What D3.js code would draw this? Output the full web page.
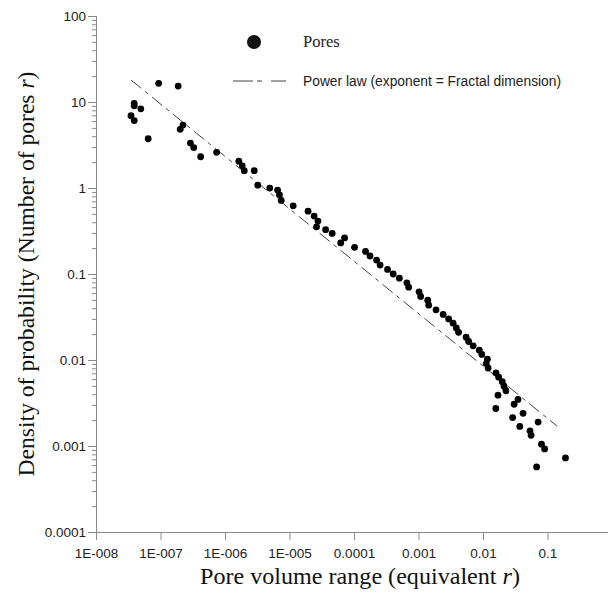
<!DOCTYPE html>
<html>
<head>
<meta charset="utf-8">
<script src="https://cdn.jsdelivr.net/npm/d3@7"></script>
<style>
  body { margin: 0; background: #fff; }
  .tick text { font-family: "Liberation Sans", Arial, sans-serif; font-size: 13.5px; fill: #222; }
  .axisTitle { font-family: "Liberation Serif", "Times New Roman", serif; font-size: 23px; fill: #111; }
</style>
</head>
<body>
<div id="svg-area"></div>
<script>
var svgWidth = 608;
var svgHeight = 592;

// pores (x = pore volume range, y = density of probability)
var poreX = [3.49e-8, 3.92e-8, 3.91e-8, 3.91e-8, 4.95e-8, 6.44e-8, 9.37e-8, 1.88e-7, 2.23e-7, 2.02e-7,
  2.91e-7, 3.28e-7, 4.19e-7, 7.42e-7, 1.64e-6, 1.85e-6, 1.99e-6, 2.84e-6, 3.22e-6, 4.94e-6,
  6.54e-6, 6.98e-6, 7.44e-6, 1.14e-5, 1.94e-5, 2.41e-5, 2.76e-5, 2.63e-5, 3.63e-5, 4.59e-5,
  7.14e-5, 6.22e-5, 1.02e-4, 1.51e-4, 1.77e-4, 2.24e-4, 2.54e-4, 3.31e-4, 4.05e-4, 5.05e-4,
  6.60e-4, 7.04e-4, 1.02e-3, 1.08e-3, 1.39e-3, 1.44e-3, 1.87e-3, 2.41e-3, 2.93e-3, 3.44e-3,
  3.86e-3, 4.18e-3, 5.48e-3, 5.99e-3, 7.03e-3, 8.77e-3, 9.59e-3, 0.0117, 0.0112, 0.0120,
  0.0159, 0.0175, 0.0199, 0.0212, 0.0227, 0.0171, 0.0349, 0.0304, 0.0158, 0.0418,
  0.0288, 0.0715, 0.0372, 0.0535, 0.0557, 0.0807, 0.0902, 0.190, 0.0678];
var poreY = [6.92, 6.08, 9.64, 9.02, 8.32, 3.74, 16.5, 15.3, 5.39, 4.81,
  3.33, 2.95, 2.31, 2.60, 2.05, 1.81, 1.59, 1.59, 1.08, 0.997,
  0.945, 0.831, 0.717, 0.621, 0.538, 0.471, 0.412, 0.354, 0.328, 0.296,
  0.263, 0.230, 0.204, 0.183, 0.162, 0.145, 0.127, 0.113, 0.100, 0.0895,
  0.0789, 0.0703, 0.0620, 0.0548, 0.0496, 0.0434, 0.0383, 0.0339, 0.0300, 0.0268,
  0.0236, 0.0210, 0.0184, 0.0164, 0.0146, 0.0130, 0.0116, 0.0102, 0.00908, 0.00807,
  0.00708, 0.00631, 0.00559, 0.00496, 0.00439, 0.00390, 0.00348, 0.00306, 0.00273, 0.00240,
  0.00214, 0.00190, 0.00169, 0.00150, 0.00133, 0.00105, 0.000924, 0.000726, 0.000571];

// power law fit end points
var fitX = [3.49e-8, 0.141];
var fitY = [18.0, 0.0017];

// the axis runs on to 1, but that label falls outside the picture
var xTickValues = [1e-8, 1e-7, 1e-6, 1e-5, 1e-4, 1e-3, 1e-2, 1e-1, 1];
var xTickLabels = ["1E-008", "1E-007", "1E-006", "1E-005", "0.0001", "0.001", "0.01", "0.1", ""];
var yTickValues = [1e-4, 1e-3, 1e-2, 1e-1, 1, 10, 100];
var yTickLabels = ["0.0001", "0.001", "0.01", "0.1", "1", "10", "100"];

var pores = poreX.map(function(x, i) { return {x: x, y: poreY[i]}; });
var fitLine = fitX.map(function(x, i) { return {x: x, y: fitY[i]}; });

var plot = {left: 96, right: 612, top: 16, bottom: 532};

var svg = d3.select("#svg-area").append("svg")
  .attr("width", svgWidth)
  .attr("height", svgHeight);

var xScale = d3.scaleLog().domain([1e-8, 1]).range([plot.left, plot.right]);
var yScale = d3.scaleLog().domain([1e-4, 100]).range([plot.bottom, plot.top]);

function minors(majors) {
  var out = [];
  majors.slice(0, -1).forEach(function(m) {
    for (var k = 2; k <= 9; k++) out.push(m * k);
  });
  return out;
}

var axisColor = "#8a8a8a";

// x axis
var gx = svg.append("g").attr("transform", "translate(0," + plot.bottom + ")");
gx.call(d3.axisBottom(xScale).tickValues(minors(xTickValues)).tickSize(5).tickFormat(""));
gx.call(d3.axisBottom(xScale).tickValues(xTickValues).tickSize(8).tickPadding(8)
  .tickFormat(function(d, i) { return xTickLabels[i]; }));
gx.selectAll("path, line").attr("stroke", axisColor);

// y axis
var gy = svg.append("g").attr("transform", "translate(" + plot.left + ",0)");
gy.append("g").call(d3.axisLeft(yScale).tickValues(minors(yTickValues)).tickSize(4).tickFormat(""));
gy.append("g").call(d3.axisLeft(yScale).tickValues(yTickValues).tickSize(8).tickPadding(2)
  .tickFormat(function(d, i) { return yTickLabels[i]; }));
gy.selectAll("path, line").attr("stroke", axisColor);

// power law line
svg.append("path")
  .datum(fitLine)
  .attr("fill", "none")
  .attr("stroke", "#444")
  .attr("stroke-width", 1)
  .attr("stroke-dasharray", "13,5,4,5")
  .attr("d", d3.line().x(function(d) { return xScale(d.x); }).y(function(d) { return yScale(d.y); }));

// pores
svg.append("g").selectAll("circle")
  .data(pores)
  .enter()
  .append("circle")
  .attr("cx", function(d) { return xScale(d.x); })
  .attr("cy", function(d) { return yScale(d.y); })
  .attr("r", 3.4)
  .attr("fill", "#000");

// legend
var legend = svg.append("g");
legend.append("circle").attr("cx", 254).attr("cy", 42).attr("r", 7).attr("fill", "#111");
legend.append("text").attr("x", 303).attr("y", 47)
  .style("font-family", "'Liberation Serif', serif").style("font-size", "16.5px").attr("fill", "#222")
  .text("Pores");
legend.append("line").attr("x1", 233).attr("x2", 286).attr("y1", 81).attr("y2", 81)
  .attr("stroke", "#444").attr("stroke-width", 1).attr("stroke-dasharray", "20,4,5,9");
legend.append("text").attr("x", 303).attr("y", 86)
  .style("font-family", "'Liberation Sans', Arial, sans-serif").style("font-size", "13.8px").attr("fill", "#222")
  .text("Power law (exponent = Fractal dimension)");

// axis titles
var xt = svg.append("text").attr("class", "axisTitle")
  .attr("x", 360).attr("y", 584).attr("text-anchor", "middle");
xt.append("tspan").text("Pore volume range (equivalent ");
xt.append("tspan").style("font-style", "italic").text("r");
xt.append("tspan").text(")");

var yt = svg.append("text").attr("class", "axisTitle")
  .attr("transform", "translate(34,274) rotate(-90)")
  .attr("text-anchor", "middle");
yt.append("tspan").text("Density of probability (Number of pores ");
yt.append("tspan").style("font-style", "italic").text("r");
yt.append("tspan").text(")");

// size the titles to the widths they take in the original figure
function fitWidth(sel, target) {
  var w = sel.node().getComputedTextLength();
  sel.style("font-size", (23 * target / w).toFixed(2) + "px");
}
fitWidth(xt, 320);
fitWidth(yt, 405);
</script>
</body>
</html>
